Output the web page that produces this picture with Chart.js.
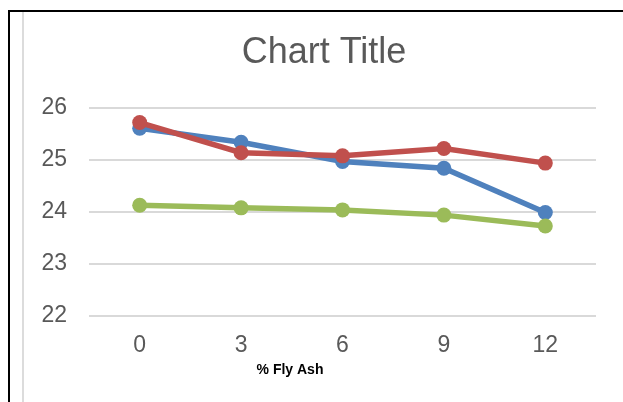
<!DOCTYPE html>
<html>
<head>
<meta charset="utf-8">
<script src="https://cdn.jsdelivr.net/npm/chart.js@4"></script>
<style>
  html, body { margin: 0; padding: 0; background: #fff; }
  #wrap { position: relative; width: 623px; height: 402px; overflow: hidden; }
  #c { position: absolute; left: 0; top: 0; }
  .ln { position: absolute; }
</style>
</head>
<body>
<div id="wrap">
  <canvas id="c" width="623" height="402"></canvas>
  <div class="ln" style="left:8px;top:10px;width:615px;height:2px;background:#000;"></div>
  <div class="ln" style="left:8px;top:10px;width:2px;height:392px;background:#000;"></div>
  <div class="ln" style="left:22px;top:12px;width:2px;height:390px;background:#dcdcdc;"></div>
</div>
<script>
const categories = ['0', '3', '6', '9', '12'];
const series1 = [25.61, 25.34, 24.97, 24.84, 23.99];
const series2 = [25.72, 25.14, 25.08, 25.22, 24.94];
const series3 = [24.13, 24.08, 24.04, 23.94, 23.73];
const yTicks = [22, 23, 24, 25, 26];
const chartTitle = 'Chart Title';
const xAxisTitle = '% Fly Ash';

const FONT = "'Liberation Sans', Arial, sans-serif";

const textPlugin = {
  id: 'texts',
  afterDraw(chart) {
    const ctx = chart.ctx;
    ctx.save();
    ctx.textAlign = 'center';
    ctx.textBaseline = 'middle';
    ctx.font = "36px " + FONT;
    ctx.fillStyle = '#595959';
    ctx.fillText(chartTitle, 324, 53.5);
    ctx.font = "bold 14px " + FONT;
    ctx.fillStyle = '#000';
    ctx.fillText(xAxisTitle, 290, 370);
    ctx.restore();
  }
};

function ds(label, data, color, order) {
  return {
    label, data, order,
    borderColor: color, backgroundColor: color,
    borderWidth: 5.5,
    pointRadius: 7.5, pointBorderWidth: 0,
    pointBackgroundColor: color,
    tension: 0, fill: false
  };
}

new Chart(document.getElementById('c'), {
  type: 'line',
  data: {
    labels: categories,
    datasets: [
      ds('Series1', series1, '#4f81bd', 3),
      ds('Series2', series2, '#c0504d', 2),
      ds('Series3', series3, '#9bbb59', 1)
    ]
  },
  options: {
    responsive: false,
    animation: false,
    layout: { padding: { left: 0, right: 27, top: 108, bottom: 42 } },
    plugins: {
      legend: { display: false },
      tooltip: { enabled: false },
      title: { display: false }
    },
    scales: {
      x: {
        type: 'category',
        offset: true,
        grid: { display: false, drawTicks: false },
        border: { display: false },
        ticks: { color: '#595959', font: { family: FONT, size: 23 }, padding: 16, maxRotation: 0 },
        afterFit(scale) { scale.height = 44; }
      },
      y: {
        min: 22, max: 26,
        afterBuildTicks(scale) { scale.ticks = yTicks.map(v => ({ value: v })); },
        grid: { color: '#d9d9d9', lineWidth: 2, drawTicks: false },
        border: { display: false },
        ticks: { color: '#595959', font: { family: FONT, size: 23 }, padding: 22 },
        afterFit(scale) { scale.width = 89; }
      }
    }
  },
  plugins: [textPlugin]
});
</script>
</body>
</html>
